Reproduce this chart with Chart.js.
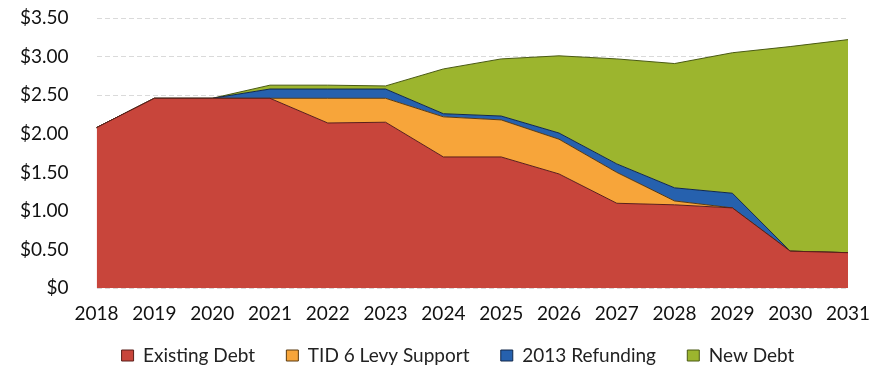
<!DOCTYPE html>
<html>
<head>
<meta charset="utf-8">
<script src="https://cdn.jsdelivr.net/npm/chart.js@4"></script>
<style>
  body { margin: 0; background: #fff; }
  #wrap { width: 888px; height: 365px; }
</style>
</head>
<body>
<div id="wrap"><canvas id="debtChart"></canvas></div>
<script>
// years along the bottom
const years = ['2018','2019','2020','2021','2022','2023','2024','2025','2026','2027','2028','2029','2030','2031']

// stacked values, $ millions
const existingDebt = [2.08, 2.46, 2.46, 2.46, 2.14, 2.15, 1.70, 1.70, 1.48, 1.10, 1.08, 1.04, 0.48, 0.46]
const tidLevy      = [0, 0, 0, 0, 0.32, 0.31, 0.52, 0.48, 0.45, 0.40, 0.05, 0, 0, 0]
const refunding    = [0, 0, 0, 0.12, 0.12, 0.12, 0.04, 0.05, 0.08, 0.11, 0.17, 0.19, 0, 0]
const newDebt      = [0, 0, 0, 0.05, 0.05, 0.04, 0.58, 0.74, 1.00, 1.36, 1.61, 1.82, 2.65, 2.76]

const yTicks = [0, 0.5, 1, 1.5, 2, 2.5, 3, 3.5]

// extra room between legend entries
const legendGap = '     '

function series(label, data, color, edge, fill) {
  return {
    label: label,
    data: data,
    backgroundColor: color,
    borderColor: edge,
    borderWidth: 1,
    fill: fill,
    pointRadius: 0,
    tension: 0
  }
}

// legend sits a bit right of centre in the original
const legendShift = {
  id: 'legendShift',
  afterLayout: function (chart) {
    chart.legend.left += 38
    chart.legend.right += 38
  }
}

var ctx = document.getElementById('debtChart').getContext('2d')
var chart = new Chart(ctx, {
  type: 'line',
  data: {
    labels: years,
    datasets: [
      series('Existing Debt', existingDebt, '#c8453b', '#5a1f1a', 'origin'),
      series('TID 6 Levy Support', tidLevy, '#f7a53a', '#5a3a10', '-1'),
      series('2013 Refunding', refunding, '#2661ae', '#12284a', '-1'),
      series('New Debt', newDebt, '#9cb52e', '#4a5a14', '-1')
    ]
  },
  plugins: [legendShift],
  options: {
    responsive: true,
    maintainAspectRatio: false,
    animation: false,
    layout: { padding: { left: -8, right: 40, top: 18, bottom: -10 } },
    plugins: {
      tooltip: { enabled: false },
      legend: {
        position: 'bottom',
        labels: {
          boxWidth: 12,
          boxHeight: 11,
          padding: 7,
          color: '#222',
          font: { family: 'Lato', size: 19 },
          generateLabels: function (chart) {
            var items = Chart.defaults.plugins.legend.labels.generateLabels(chart)
            items.forEach(function (it, i) {
              if (i < items.length - 1) it.text += legendGap
            })
            return items
          }
        }
      }
    },
    scales: {
      x: {
        offset: false,
        grid: { display: false, drawTicks: false },
        border: { display: false },
        ticks: {
          color: '#111',
          padding: 14,
          maxRotation: 0,
          font: { family: 'Lato', size: 19 }
        }
      },
      y: {
        stacked: true,
        min: 0,
        max: 3.5,
        afterBuildTicks: function (axis) {
          axis.ticks = yTicks.map(v => ({ value: v }))
        },
        afterFit: function (scale) {
          scale.paddingTop = 0
          scale.paddingBottom = 0
        },
        grid: { color: '#dadada', drawTicks: false },
        border: { display: false, dash: [5, 3] },
        ticks: {
          color: '#111',
          padding: 28,
          font: { family: 'Lato', size: 19 },
          callback: function (v) { return v === 0 ? '$0' : '$' + v.toFixed(2) }
        }
      }
    }
  }
})
</script>
</body>
</html>
